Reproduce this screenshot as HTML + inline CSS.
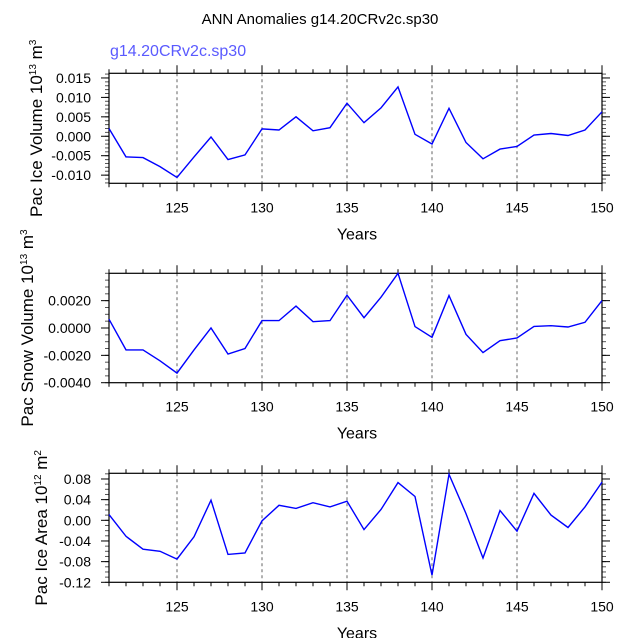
<!DOCTYPE html>
<html><head><meta charset="utf-8"><style>
body{margin:0;background:#fff;}
svg{display:block;font-family:"Liberation Sans",sans-serif;}
</style></head><body>
<svg id="chart" width="638" height="638" viewBox="0 0 638 638">
<text x="320" y="24" font-size="15" text-anchor="middle">ANN Anomalies g14.20CRv2c.sp30</text>
<text x="110" y="56" font-size="16" fill="#5a5aff">g14.20CRv2c.sp30</text>
</svg>
<script>
const years = [121,122,123,124,125,126,127,128,129,130,131,132,133,134,135,136,137,138,139,140,141,142,143,144,145,146,147,148,149,150];
const iceVolume = [0.0020,-0.0053,-0.0055,-0.0078,-0.0106,-0.0053,-0.0002,-0.0060,-0.0048,0.0019,0.0016,0.0050,0.0014,0.0022,0.0085,0.0035,0.0073,0.0127,0.0005,-0.0020,0.0072,-0.0016,-0.0058,-0.0033,-0.0026,0.0003,0.0007,0.0002,0.0016,0.0063];
const snowVolume = [0.00064,-0.0016,-0.0016,-0.0024,-0.0033,-0.0016,0.0000,-0.0019,-0.0015,0.00054,0.00054,0.0016,0.00046,0.00054,0.0024,0.00075,0.00225,0.0040,0.0001,-0.00068,0.00237,-0.00046,-0.0018,-0.00093,-0.00073,0.00012,0.00017,0.00007,0.00042,0.0020];
const iceArea = [0.011,-0.031,-0.056,-0.060,-0.075,-0.032,0.039,-0.066,-0.063,-0.001,0.029,0.023,0.034,0.026,0.037,-0.018,0.021,0.073,0.046,-0.106,0.089,0.013,-0.073,0.019,-0.021,0.052,0.010,-0.014,0.026,0.074];
const xTicks = [125,130,135,140,145,150];
const iceVolTicks = [-0.010,-0.005,0.000,0.005,0.010,0.015];
const iceVolTickLabels = ["-0.010","-0.005","0.000","0.005","0.010","0.015"];
const snowTicks = [-0.004,-0.002,0,0.002];
const snowTickLabels = ["-0.0040","-0.0020","0.0000","0.0020"];
const areaTicks = [-0.12,-0.08,-0.04,0,0.04,0.08];
const areaTickLabels = ["-0.12","-0.08","-0.04","0.00","0.04","0.08"];

const NS="http://www.w3.org/2000/svg";
const svg=document.getElementById('chart');
function mk(tag,attrs,parent){const e=document.createElementNS(NS,tag);for(const k in attrs)e.setAttribute(k,attrs[k]);(parent||svg).appendChild(e);return e;}

const X0=109,X1=602,XMIN=121,XMAX=150;
function xs(v){return X0+(v-XMIN)/(XMAX-XMIN)*(X1-X0);}

const panels=[
 {name:'ice-volume',top:73.3,bot:183.3,ymin:-0.0121,ymax:0.0162,data:iceVolume,ticks:iceVolTicks,labels:iceVolTickLabels,minor:0.001,titleX:36,t1:'Pac Ice Volume 10',sup:'13',t2:' m',sup2:'3'},
 {name:'snow-volume',top:273.3,bot:382.7,ymin:-0.0040,ymax:0.0040,data:snowVolume,ticks:snowTicks,labels:snowTickLabels,minor:0.0005,titleX:27,t1:'Pac Snow Volume 10',sup:'13',t2:' m',sup2:'3'},
 {name:'ice-area',top:473.3,bot:582.3,ymin:-0.12,ymax:0.091,data:iceArea,ticks:areaTicks,labels:areaTickLabels,minor:0.01,titleX:41,t1:'Pac Ice Area 10',sup:'12',t2:' m',sup2:'2'}
];

panels.forEach(p=>{
  const g=mk('g',{});
  
  
  const ys=v=>p.bot-(v-p.ymin)/(p.ymax-p.ymin)*(p.bot-p.top);
  [125,130,135,140,145].forEach(t=>{
    const l=mk('line',{x1:xs(t),x2:xs(t),y1:p.top,y2:p.bot,stroke:'#222','stroke-width':0.7,'stroke-dasharray':'3,3'},g);
    
    
  });
  for(let y=XMIN;y<=XMAX;y++){
    const maj=y%5===0, len=maj?8:4;
    mk('line',{x1:xs(y),x2:xs(y),y1:p.bot,y2:p.bot+len,stroke:'#000','stroke-width':1},g);
    mk('line',{x1:xs(y),x2:xs(y),y1:p.top,y2:p.top-len,stroke:'#000','stroke-width':1},g);
  }
  const n0=Math.ceil(p.ymin/p.minor-1e-6), n1=Math.floor(p.ymax/p.minor+1e-6);
  for(let i=n0;i<=n1;i++){
    const v=i*p.minor;
    mk('line',{x1:X0,x2:X0-4,y1:ys(v),y2:ys(v),stroke:'#555','stroke-width':1},g);
    mk('line',{x1:X1,x2:X1+4,y1:ys(v),y2:ys(v),stroke:'#555','stroke-width':1},g);
  }
  p.ticks.forEach((v,i)=>{
    mk('line',{x1:X0,x2:X0-8,y1:ys(v),y2:ys(v),stroke:'#000','stroke-width':1},g);
    mk('line',{x1:X1,x2:X1+8,y1:ys(v),y2:ys(v),stroke:'#000','stroke-width':1},g);
    const t=mk('text',{x:X0-18,y:ys(v)+5,'font-size':14,'text-anchor':'end'},g);
    
    
    t.textContent=p.labels[i];
  });
  xTicks.forEach(v=>{
    const t=mk('text',{x:xs(v),y:p.bot+29,'font-size':14,'text-anchor':'middle'},g);
    
    
    t.textContent=String(v);
  });
  const f=mk('rect',{x:X0,y:p.top,width:X1-X0,height:p.bot-p.top,fill:'none',stroke:'#000','stroke-width':1.2},g);
  
  
  const pts=years.map((y,i)=>xs(y).toFixed(1)+','+ys(p.data[i]).toFixed(1)).join(' ');
  const pl=mk('polyline',{points:pts,fill:'none',stroke:'#0000ff','stroke-width':1.4},g);
  
  
  const xt=mk('text',{x:357,y:p.bot+56,'font-size':16,'text-anchor':'middle'},g);
  
  
  xt.textContent='Years';
  const cy=(p.top+p.bot)/2;
  const yt=mk('text',{x:0,y:0,'font-size':17,'text-anchor':'middle',transform:`translate(${p.titleX+6},${cy}) rotate(-90)`},g);
  
  
  const a=mk('tspan',{},yt);a.textContent=p.t1;
  const b=mk('tspan',{dy:-6,'font-size':10},yt);b.textContent=p.sup;
  const c=mk('tspan',{dy:6},yt);c.textContent=p.t2;
  const d=mk('tspan',{dy:-6,'font-size':10},yt);d.textContent=p.sup2;
});
</script>
</body></html>
